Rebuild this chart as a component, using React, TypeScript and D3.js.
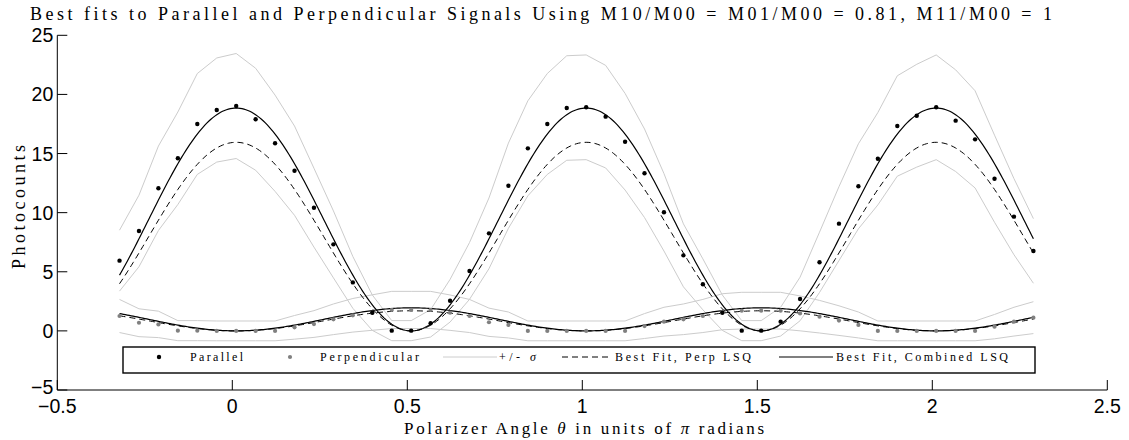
import React from 'react';
import * as d3 from 'd3';

// Polarizer angle of each measurement, degrees
const ANGLE_DEG = [
  -60, -50, -40, -30, -20, -10, 0, 10, 20, 30, 40, 50, 60, 70, 80, 90,
  100, 110, 120, 130, 140, 150, 160, 170, 180, 190, 200, 210, 220, 230, 240, 250,
  260, 270, 280, 290, 300, 310, 320, 330, 340, 350, 360, 370, 380, 390, 400, 410,
];
const PARALLEL = [
  5.94, 8.45, 12.06, 14.6, 17.5, 18.68, 19.02, 17.9, 15.87, 13.55, 10.42, 7.32, 4.1, 1.54, 0.02, 0.02,
  0.64, 2.55, 5.07, 8.25, 12.28, 15.44, 17.5, 18.85, 18.91, 18.12, 16.0, 13.33, 10.03, 6.39, 3.94, 1.54,
  0.02, 0.02, 0.78, 2.7, 5.8, 9.07, 12.23, 14.56, 17.33, 18.2, 18.91, 17.78, 16.2, 12.87, 9.66, 6.76,
];
const PERPENDICULAR = [
  1.26, 0.69, 0.55, 0.02, 0.02, 0.0, 0.0, 0.0, 0.0, 0.3, 0.58, 0.98, 1.32, 1.55, 1.77, 1.77,
  1.77, 1.54, 1.26, 0.73, 0.5, 0.0, 0.0, 0.0, 0.0, 0.0, 0.0, 0.41, 0.78, 0.98, 1.26, 1.62,
  1.71, 1.71, 1.71, 1.48, 1.2, 0.87, 0.5, 0.0, 0.0, 0.0, 0.0, 0.0, 0.0, 0.36, 0.78, 1.12,
];
// fitted amplitudes (Malus-law model)
const FIT_COMBINED_PAR = 18.85;
const FIT_COMBINED_PERP = 1.95;
const FIT_PERPLSQ_PAR = 15.95;
const FIT_PERPLSQ_PERP = 1.7;
const ANGLE_OFFSET_DEG = 2;
const SIGMA_FLOOR = 0.7;

const X_TICKS = [-0.5, 0, 0.5, 1, 1.5, 2, 2.5];
const Y_TICKS = [-5, 0, 5, 10, 15, 20, 25];

const TITLE = 'Best fits to Parallel and Perpendicular Signals Using M10/M00 = M01/M00 = 0.81, M11/M00 = 1';

const W = 1129;
const H = 440;
const L = 57.3, R = 1107.3, T = 35.3, B = 390;
const SERIF = '"Liberation Serif", "DejaVu Serif", serif';
const SANS = '"Liberation Sans", Arial, sans-serif';
const GREY_LINE = '#cccccc';
const GREY_DOT = '#808080';

export default function App() {
  const x = d3.scaleLinear().domain([-0.5, 2.5]).range([L, R]);
  const y = d3.scaleLinear().domain([-5, 25]).range([B, T]);
  const th = (deg: number) => (deg + ANGLE_OFFSET_DEG) / 180;

  const line = d3.line<[number, number]>().x((d) => x(d[0])).y((d) => y(d[1]));

  const sig = (v: number) => Math.sqrt(v + SIGMA_FLOOR);
  const parUp: [number, number][] = ANGLE_DEG.map((a, i) => [th(a), PARALLEL[i] + sig(PARALLEL[i])]);
  const parLo: [number, number][] = ANGLE_DEG.map((a, i) => [th(a), PARALLEL[i] - sig(PARALLEL[i])]);
  const perUp: [number, number][] = ANGLE_DEG.map((a, i) => [th(a), PERPENDICULAR[i] + sig(PERPENDICULAR[i])]);
  const perLo: [number, number][] = ANGLE_DEG.map((a, i) => [th(a), PERPENDICULAR[i] - sig(PERPENDICULAR[i])]);

  const fineDeg = d3.range(ANGLE_DEG[0], ANGLE_DEG[ANGLE_DEG.length - 1] + 0.01, 1);
  const c2 = (a: number) => Math.cos((a * Math.PI) / 180) ** 2;
  const s2 = (a: number) => Math.sin((a * Math.PI) / 180) ** 2;
  const fit = (amp: number, f: (a: number) => number): [number, number][] =>
    fineDeg.map((a) => [th(a), amp * f(a)]);

  const legendY = 357;

  return (
    <svg width={W} height={H} style={{ position: 'absolute', left: 0, top: 0, background: '#fff' }}>
      <rect x={0} y={0} width={W} height={H} fill="#fff" />
      {/* sigma bands */}
      {[parUp, parLo, perUp, perLo].map((d, i) => (
        <path key={'s' + i} d={line(d) || ''} fill="none" stroke={GREY_LINE} strokeWidth={1} />
      ))}
      {/* fits */}
      <path d={line(fit(FIT_PERPLSQ_PAR, c2)) || ''} fill="none" stroke="#000" strokeWidth={1} strokeDasharray="6,4" />
      <path d={line(fit(FIT_PERPLSQ_PERP, s2)) || ''} fill="none" stroke="#000" strokeWidth={1} strokeDasharray="6,4" />
      <path d={line(fit(FIT_COMBINED_PAR, c2)) || ''} fill="none" stroke="#000" strokeWidth={1.2} />
      <path d={line(fit(FIT_COMBINED_PERP, s2)) || ''} fill="none" stroke="#000" strokeWidth={1.2} />
      {/* data */}
      {ANGLE_DEG.map((a, i) => (
        <circle key={'pe' + i} cx={x(th(a))} cy={y(PERPENDICULAR[i])} r={2.1} fill={GREY_DOT} />
      ))}
      {ANGLE_DEG.map((a, i) => (
        <circle key={'pa' + i} cx={x(th(a))} cy={y(PARALLEL[i])} r={2.2} fill="#000" />
      ))}

      {/* axes */}
      <line x1={L} x2={L} y1={T} y2={B} stroke="#000" strokeWidth={1} />
      <line x1={L} x2={R} y1={B} y2={B} stroke="#000" strokeWidth={1} />
      {Y_TICKS.map((t) => (
        <g key={'yt' + t}>
          <line x1={L} x2={L + 10} y1={y(t)} y2={y(t)} stroke="#000" strokeWidth={1} />
          <text x={L - 4} y={t === -5 ? y(t) - 3 : y(t)} dy="0.36em" textAnchor="end" fontFamily={SANS} fontSize={19.5}>
            {t < 0 ? '\u2212' + Math.abs(t) : String(t)}
          </text>
        </g>
      ))}
      {X_TICKS.map((t) => (
        <g key={'xt' + t}>
          <line x1={x(t)} x2={x(t)} y1={B} y2={B - 10} stroke="#000" strokeWidth={1} />
          <text x={x(t)} y={413} textAnchor="middle" fontFamily={SANS} fontSize={19.5}>
            {t < 0 ? '\u2212' + Math.abs(t) : String(t)}
          </text>
        </g>
      ))}

      {/* legend */}
      <rect x={123} y={347} width={912} height={26} fill="#fff" stroke="#000" strokeWidth={1.4} />
      <circle cx={159} cy={legendY} r={2.2} fill="#000" />
      <text x={190} y={legendY + 4} fontFamily={SERIF} fontSize={12} textLength={53} lengthAdjust="spacing">Parallel</text>
      <circle cx={290} cy={legendY} r={2.1} fill={GREY_DOT} />
      <text x={320} y={legendY + 4} fontFamily={SERIF} fontSize={12} textLength={99} lengthAdjust="spacing">Perpendicular</text>
      <line x1={443} x2={497} y1={legendY} y2={legendY} stroke={GREY_LINE} strokeWidth={1} />
      <text x={499} y={legendY + 4} fontFamily={SERIF} fontSize={12} textLength={37} lengthAdjust="spacing">
        +/- <tspan fontStyle="italic">σ</tspan>
      </text>
      <line x1={562} x2={612} y1={legendY} y2={legendY} stroke="#000" strokeWidth={1} strokeDasharray="6,4" />
      <text x={615} y={legendY + 4} fontFamily={SERIF} fontSize={12} textLength={136} lengthAdjust="spacing">Best Fit, Perp LSQ</text>
      <line x1={779} x2={833} y1={legendY} y2={legendY} stroke="#000" strokeWidth={1.2} />
      <text x={836} y={legendY + 4} fontFamily={SERIF} fontSize={12} textLength={172} lengthAdjust="spacing">Best Fit, Combined LSQ</text>

      {/* titles */}
      <text x={30} y={20} fontFamily={SERIF} fontSize={18} textLength={1022} lengthAdjust="spacing">{TITLE}</text>
      <text x={584} y={434} textAnchor="middle" fontFamily={SERIF} fontSize={17} textLength={360} lengthAdjust="spacing">
        Polarizer Angle <tspan fontStyle="italic">θ</tspan> in units of <tspan fontStyle="italic">π</tspan> radians
      </text>
      <text transform={`translate(25,207) rotate(-90)`} textAnchor="middle" fontFamily={SERIF} fontSize={18} textLength={124} lengthAdjust="spacing">
        Photocounts
      </text>
    </svg>
  );
}
